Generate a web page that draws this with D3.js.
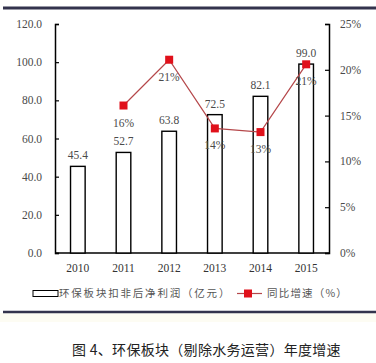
<!DOCTYPE html>
<html><head><meta charset="utf-8">
<script src="https://cdn.jsdelivr.net/npm/d3@7"></script>
<style>body{margin:0;background:#fff}svg{display:block}</style>
</head><body>
<script>
const years = ["2010","2011","2012","2013","2014","2015"];
const profit = [45.4, 52.7, 63.8, 72.5, 82.1, 99.0];
const growthYears = ["2011","2012","2013","2014","2015"];
const growth = [16.1, 21.1, 13.6, 13.2, 20.6];
const growthLabels = ["16%","21%","14%","13%","21%"];
const leftTicks = [0,20,40,60,80,100,120];
const rightTicks = [0,5,10,15,20,25];

const W=376,H=363;
const svg=d3.select("body").append("svg").attr("width",W).attr("height",H);
const serif="'Liberation Serif','Times New Roman',serif";
const cjk="'Noto Sans CJK SC',sans-serif";

svg.append("rect").attr("x",0).attr("y",313).attr("width",W).attr("height",9).attr("fill","#fdfcf3");
svg.append("line").attr("x1",3).attr("x2",W).attr("y1",8).attr("y2",8).attr("stroke","#33334d").attr("stroke-width",3);
svg.append("line").attr("x1",3).attr("x2",W).attr("y1",312).attr("y2",312).attr("stroke","#33334d").attr("stroke-width",2.5);

const x=d3.scaleBand().domain(years).range([55,329]).paddingInner(0.68).paddingOuter(0.34);
const yL=d3.scaleLinear().domain([0,120]).range([253,24]);
const yR=d3.scaleLinear().domain([0,25]).range([253,24]);

const axL=svg.append("g").attr("transform","translate(55,0)").call(d3.axisRight(yL).tickValues(leftTicks).tickSize(4).tickFormat(d=>""));
axL.select(".domain").attr("stroke","#000").attr("stroke-width",1.5);
axL.selectAll(".tick line").attr("stroke","#000").attr("stroke-width",1.2);
svg.append("g").selectAll("text").data(leftTicks).join("text")
 .attr("x",42).attr("y",d=>yL(d)+4).attr("text-anchor","end")
 .attr("font-family",serif).attr("font-size",11.5).attr("fill","#4a4a4a").text(d=>d.toFixed(1));

const axR=svg.append("g").attr("transform","translate(329,0)").call(d3.axisLeft(yR).tickValues(rightTicks).tickSize(4).tickFormat(d=>""));
axR.select(".domain").attr("stroke","#000").attr("stroke-width",1.5);
axR.selectAll(".tick line").attr("stroke","#000").attr("stroke-width",1.2);
svg.append("g").selectAll("text").data(rightTicks).join("text")
 .attr("x",340).attr("y",d=>yR(d)+4).attr("text-anchor","start")
 .attr("font-family",serif).attr("font-size",11.5).attr("fill","#4a4a4a").text(d=>d+"%");

svg.append("line").attr("x1",55).attr("x2",329).attr("y1",253).attr("y2",253).attr("stroke","#000").attr("stroke-width",1.5);

svg.append("g").selectAll("text").data(years).join("text")
 .attr("x",d=>x(d)+x.bandwidth()/2).attr("y",272).attr("text-anchor","middle")
 .attr("font-family",serif).attr("font-size",11.5).attr("fill","#333").text(d=>d);

svg.append("g").selectAll("rect").data(years).join("rect")
 .attr("x",d=>x(d)).attr("width",x.bandwidth())
 .attr("y",(d,i)=>yL(profit[i])).attr("height",(d,i)=>253-yL(profit[i]))
 .attr("fill","#fff").attr("stroke","#000").attr("stroke-width",1.4);

svg.append("g").selectAll("text").data(years).join("text")
 .attr("x",d=>x(d)+x.bandwidth()/2).attr("y",(d,i)=>yL(profit[i])-7).attr("text-anchor","middle")
 .attr("font-family",serif).attr("font-size",11.5).attr("fill","#4a4a4a").text((d,i)=>profit[i].toFixed(1));

const cx=d=>x(d)+x.bandwidth()/2;
const line=d3.line().x((d,i)=>cx(growthYears[i])).y(d=>yR(d));
svg.append("path").datum(growth).attr("d",line).attr("fill","none").attr("stroke","#b5474a").attr("stroke-width",1.2);
svg.append("g").selectAll("rect").data(growth).join("rect")
 .attr("x",(d,i)=>cx(growthYears[i])-4).attr("y",d=>yR(d)-4).attr("width",8).attr("height",8).attr("fill","#e0101a");
svg.append("g").selectAll("text").data(growth).join("text")
 .attr("x",(d,i)=>cx(growthYears[i])).attr("y",d=>yR(d)+21).attr("text-anchor","middle")
 .attr("font-family",serif).attr("font-size",11.5).attr("fill","#4a4a4a").text((d,i)=>growthLabels[i]);

// legend
svg.append("rect").attr("x",33).attr("y",290.5).attr("width",25).attr("height",6).attr("fill","#fff").attr("stroke","#000").attr("stroke-width",1);
svg.append("text").attr("x",59).attr("y",297).attr("font-family",cjk).attr("font-size",10.5).attr("letter-spacing",1.8).attr("fill","#555").text("环保板块扣非后净利润（亿元）");
svg.append("line").attr("x1",237).attr("x2",262).attr("y1",293.5).attr("y2",293.5).attr("stroke","#b5474a").attr("stroke-width",1.2);
svg.append("rect").attr("x",244).attr("y",289.5).attr("width",8).attr("height",8).attr("fill","#e0101a");
svg.append("text").attr("x",267).attr("y",297).attr("font-family",cjk).attr("font-size",10.5).attr("letter-spacing",1.2).attr("fill","#555").text("同比增速（%）");

svg.append("text").attr("x",72).attr("y",355).attr("font-family",cjk).attr("font-size",14).attr("letter-spacing",0.3).attr("fill","#222").text("图 4、环保板块（剔除水务运营）年度增速");
</script>
</body></html>
